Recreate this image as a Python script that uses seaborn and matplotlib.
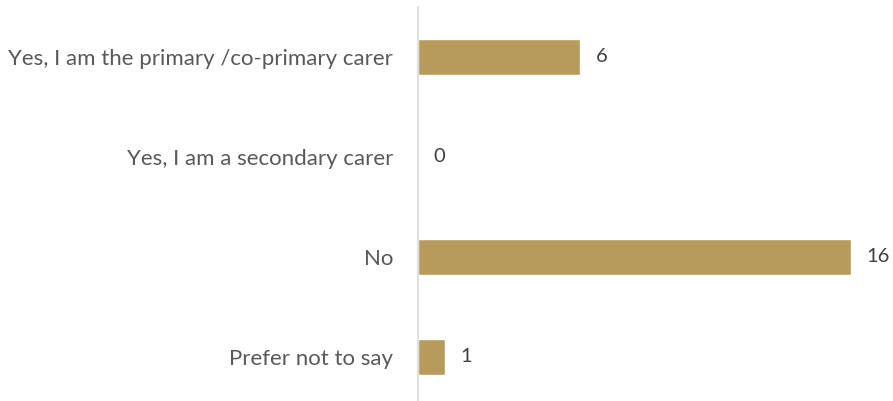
import matplotlib
matplotlib.use("Agg")
import matplotlib.pyplot as plt
import seaborn as sns
import pandas as pd

categories = ["Yes, I am the primary /co-primary carer", "Yes, I am a secondary carer", "No", "Prefer not to say"]
values = [6, 0, 16, 1]

sns.set_style("white")
plt.rcParams['font.family'] = ['Lato', 'DejaVu Sans']

df = pd.DataFrame({"category": categories, "value": values})

fig = plt.figure(figsize=(8.93, 4.01), dpi=100)
ax = fig.add_axes([418/893, 0, 1 - 418/893, 1 - 7/401])
sns.barplot(data=df, x="value", y="category", color="#B79B5C", width=0.36,
            saturation=1, ax=ax, orient="h")
ax.set_xlim(0, 17.55)
ax.set_ylim(3.44, -0.5)
ax.set_xlabel("")
ax.set_ylabel("")
ax.set_xticks([])
for s in ["top", "right", "bottom"]:
    ax.spines[s].set_visible(False)
ax.spines["left"].set_color("#D9D9D9")
ax.spines["left"].set_linewidth(1.2)
ax.tick_params(axis="y", length=0, pad=18, labelsize=16, labelcolor="#595959")
for i, v in enumerate(values):
    ax.annotate(str(v), xy=(v, i), xytext=(11, 0), textcoords="offset points",
                va="center", ha="left", fontsize=14.5, color="#404040")
fig.savefig("out.png", dpi=100)
